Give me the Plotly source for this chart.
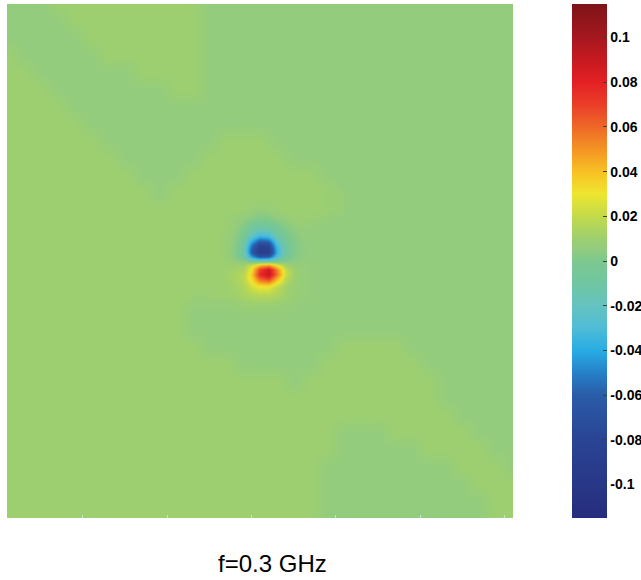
import plotly.graph_objects as go

# ---------------- colour bar ----------------
Z_MIN, Z_MAX = -0.115, 0.115
CB_VALUES = [-0.115, -0.10, -0.08, -0.06, -0.05, -0.04, -0.03, -0.02, -0.01, 0.0,
             0.006, 0.010, 0.02, 0.03, 0.04, 0.05, 0.06, 0.07, 0.08, 0.09, 0.10, 0.115]
CB_COLORS = ["rgb(38,45,125)", "rgb(40,55,135)", "rgb(42,68,148)", "rgb(42,92,168)",
             "rgb(38,128,200)", "rgb(40,172,228)", "rgb(80,188,215)", "rgb(100,195,192)",
             "rgb(112,198,162)", "rgb(125,200,142)", "rgb(148,204,125)", "rgb(157,207,112)",
             "rgb(195,218,75)", "rgb(238,230,48)", "rgb(248,192,36)", "rgb(244,148,36)",
             "rgb(238,104,40)", "rgb(234,62,40)", "rgb(228,32,36)", "rgb(198,26,32)",
             "rgb(165,24,30)", "rgb(125,20,25)"]
CB_TICKVALS = [-0.1, -0.08, -0.06, -0.04, -0.02, 0, 0.02, 0.04, 0.06, 0.08, 0.1]
CB_TICKTEXT = ["-0.1", "-0.08", "-0.06", "-0.04", "-0.02", "0", "0.02", "0.04", "0.06", "0.08", "0.1"]

TITLE = "f=0.3 GHz"

# ---------------- background field: two nearly flat levels (x 1e-3) ----------------
LEVELS = {"L": 10, "B": 6}
BG_X = [1, 3, 5, 7, 9, 11, 13, 15, 17, 19, 21, 23, 25, 27, 29, 31,
        33, 35, 37, 39, 41, 43, 45, 47, 49, 51, 53, 55, 57, 59, 61]
BG_Y = [1, 3, 5, 7, 9, 11, 13, 15, 17, 19, 21, 23, 25, 27, 29, 31,
        33, 35, 37, 39, 41, 43, 45, 47, 49, 51, 53, 55, 57, 59, 61]
# run-length rows (top to bottom): level letter + count
BG_ROWS = [
    "B3 L9 B19", "B4 L8 B19", "B5 L7 B19", "L1 B5 L6 B19", "L2 B6 L4 B19",
    "L3 B7 L2 B19", "L4 B27", "L5 B26", "L6 B7 L3 B15", "L7 B5 L5 B14",
    "L8 B3 L8 B12", "L9 B1 L10 B11", "L20 B11", "L18 B13", "L17 B14",
    "L17 B14", "L17 B14", "L12 B19", "L11 B20", "L11 B20",
    "L12 B8 L4 B7", "L14 B5 L6 B6", "L17 B1 L8 B5", "L26 B5", "L27 B4",
    "L20 B3 L5 B3", "L20 B5 L4 B2", "L19 B8 L3 B1", "L19 B9 L3", "L19 B10 L2",
    "L19 B10 L2",
]

# ---------------- dipole region (x 1e-3) ----------------
PATCH_X = [24, 26, 27, 28, 29, 30, 31, 32, 33, 34, 35, 36, 38, 40]
PATCH_Y = [23.5, 25, 26, 27, 28, 29, 29.5, 30, 30.5, 31, 31.5, 32, 32.5, 33, 34, 35, 36, 37.5]
PATCH_Z = [
    [10, 10, 10, 10, 10, 10, 10, 10, 10, 10, 10, 10, 10, 8],
    [10, 10, 10, 10, 9, 8, 7, 8, 9, 10, 10, 10, 10, 8],
    [10, 10, 9, 8, 6, 3, 1, 2, 5, 7, 9, 9, 8, 6],
    [10, 10, 9, 7, 2, -5, -9, -7, -2, 3, 6, 7, 6, 6],
    [10, 10, 8, 5, -3, -20, -32, -28, -12, -2, 3, 6, 6, 6],
    [10, 10, 8, 4, -9, -50, -78, -72, -30, -7, 1, 5, 6, 6],
    [10, 10, 8, 3, -11, -60, -88, -84, -36, -9, 1, 5, 6, 6],
    [10, 10, 8, 3, -11, -62, -90, -86, -38, -9, 1, 5, 6, 6],
    [10, 10, 8, 4, -8, -44, -66, -62, -28, -6, 2, 5, 6, 6],
    [10, 10, 9, 7, 4, -2, -5, -3, 0, 3, 5, 6, 6, 6],
    [10, 10, 10, 10, 11, 24, 44, 52, 32, 12, 8, 7, 6, 6],
    [10, 10, 11, 12, 14, 32, 70, 86, 54, 20, 10, 7, 6, 6],
    [10, 10, 11, 13, 17, 38, 76, 90, 58, 22, 11, 7, 6, 6],
    [10, 10, 11, 13, 18, 34, 62, 72, 44, 18, 10, 7, 6, 6],
    [10, 10, 10, 12, 15, 24, 30, 29, 20, 12, 9, 7, 6, 6],
    [8, 10, 10, 11, 13, 15, 16, 16, 14, 11, 8, 7, 6, 6],
    [7, 7, 7, 8, 9, 10, 10, 10, 9, 8, 7, 6, 6, 6],
    [6, 6, 6, 6, 6, 6, 6, 6, 6, 6, 6, 6, 6, 6],
]

# ---------------- build ----------------
def decode(row):
    out = []
    for tok in row.split():
        out.extend([LEVELS[tok[0]]] * int(tok[1:]))
    if len(out) != len(BG_X):
        raise ValueError("bad row " + row)
    return out

bg_z = [[v / 1000.0 for v in decode(r)] for r in BG_ROWS]
patch_z = [[v / 1000.0 for v in r] for r in PATCH_Z]

colorscale = [[(v - Z_MIN) / (Z_MAX - Z_MIN), c] for v, c in zip(CB_VALUES, CB_COLORS)]

fig = go.Figure()
fig.add_trace(go.Heatmap(x=BG_X, y=BG_Y, z=bg_z, coloraxis="coloraxis",
                         zsmooth="best", hoverinfo="skip"))
fig.add_trace(go.Heatmap(x=PATCH_X, y=PATCH_Y, z=patch_z, coloraxis="coloraxis",
                         zsmooth="best"))

font_family = "Liberation Sans, Arial, Helvetica, sans-serif"

# plot area: 506 x 514 px; colour bar occupies px 572..607 from the left edge of the figure
PLOT_W = 506
CB_LEFT = (572 - 7) / PLOT_W
CB_THICK = 35

# matching small tick marks on the left edge of the colour bar
left_ticks = []
for v in CB_TICKVALS:
    yp = (v - Z_MIN) / (Z_MAX - Z_MIN)
    left_ticks.append(dict(type="line", xref="paper", yref="paper",
                           x0=CB_LEFT, x1=CB_LEFT + 4 / PLOT_W, y0=yp, y1=yp,
                           line=dict(color="rgb(50,70,50)", width=1)))

fig.update_layout(
    width=641, height=580,
    margin=dict(l=7, r=128, t=4, b=62, autoexpand=False),
    paper_bgcolor="white", plot_bgcolor="white",
    showlegend=False,
    coloraxis=dict(
        colorscale=colorscale, cmin=Z_MIN, cmax=Z_MAX,
        colorbar=dict(
            x=CB_LEFT, xanchor="left", xpad=0, ypad=0,
            y=0.5, yanchor="middle", len=1, lenmode="fraction",
            thickness=CB_THICK, thicknessmode="pixels", outlinewidth=0,
            ticks="inside", ticklen=4, tickwidth=1, tickcolor="rgb(50,70,50)",
            tickvals=CB_TICKVALS, ticktext=CB_TICKTEXT,
            tickfont=dict(family=font_family, size=14, color="black", weight="bold"),
        ),
    ),
    shapes=left_ticks,
    xaxis=dict(range=[1, 61], showgrid=False, zeroline=False, showline=False,
               ticks="inside", ticklen=3, tickcolor="rgb(200,225,200)",
               tickvals=[10, 20, 30, 40, 50, 60], showticklabels=False),
    yaxis=dict(range=[61, 1], showgrid=False, zeroline=False, showline=False,
               ticks="", showticklabels=False),
    annotations=[dict(text=TITLE, xref="paper", yref="paper",
                      x=(272 - 7) / 506, y=(518 - 563) / 514,
                      xanchor="center", yanchor="middle", showarrow=False,
                      font=dict(family=font_family, size=24, color="black"))],
)

fig.write_html("out.html", config={"displayModeBar": False},
               post_script="document.body.style.margin='0px';document.body.style.overflow='hidden';")
